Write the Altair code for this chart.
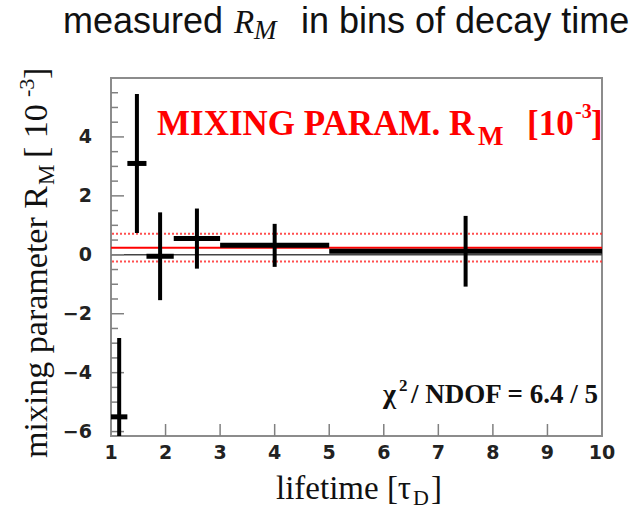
import altair as alt
import pandas as pd

# Decay-time bins (in units of the D lifetime) and the measured mixing parameter R_M [1e-3]
bin_lo = [1.0, 1.3, 1.65, 2.15, 3.0, 5.0]
bin_hi = [1.3, 1.65, 2.15, 3.0, 5.0, 10.0]
bin_center = [1.15, 1.475, 1.9, 2.575, 4.0, 7.5]
rm_value = [-5.5, 3.1, -0.05, 0.55, 0.32, 0.12]
rm_error = [2.68, 2.36, 1.49, 1.02, 0.73, 1.2]

# Constant fit over all bins and its one-sigma band
fit_value = 0.24
fit_error = 0.47

# Axis tick positions and labels
x_tick_labels = [1, 2, 3, 4, 5, 6, 7, 8, 9, 10]
x_ticks = [2, 3, 4, 5, 6, 7, 8, 9]
y_tick_labels = [-6, -4, -2, 0, 2, 4]
y_ticks_major = [-6, -4, -2, 0, 2, 4]
y_ticks_minor = [-5.5, -5, -4.5, -3.5, -3, -2.5, -1.5, -1, -0.5,
                 0.5, 1, 1.5, 2.5, 3, 3.5, 4.5, 5, 5.5]

W, H = 491, 358
xscale = alt.Scale(domain=[1, 10], nice=False, zero=False)
yscale = alt.Scale(domain=[-6.15, 6.0], nice=False, zero=False)

points = pd.DataFrame({
    "lo": bin_lo,
    "hi": bin_hi,
    "xc": bin_center,
    "y": rm_value,
    "err": rm_error,
})
points["y_lo"] = points["y"] - points["err"]
points["y_hi"] = points["y"] + points["err"]

fit = pd.DataFrame({"v": [fit_value]})
band = pd.DataFrame({"v": [fit_value - fit_error, fit_value + fit_error]})
zero = pd.DataFrame({"v": [0.0]})
anchor = pd.DataFrame({"a": [0]})

TICK = "#808080"
LABEL_FONT = "DejaVu Sans"

# Tick marks drawn inside the frame
y_major = alt.Chart(pd.DataFrame({"v": y_ticks_major})).mark_rule(
    color=TICK, strokeWidth=1.5).encode(
    y=alt.Y("v:Q", scale=yscale, axis=None), x=alt.value(0), x2=alt.value(13))
y_minor = alt.Chart(pd.DataFrame({"v": y_ticks_minor})).mark_rule(
    color=TICK, strokeWidth=1.5).encode(
    y=alt.Y("v:Q", scale=yscale, axis=None), x=alt.value(0), x2=alt.value(7))
x_major = alt.Chart(pd.DataFrame({"v": x_ticks})).mark_rule(
    color=TICK, strokeWidth=1.5).encode(
    x=alt.X("v:Q", scale=xscale, axis=None), y=alt.value(H), y2=alt.value(H - 12))

# Tick labels
x_labels = alt.Chart(pd.DataFrame({"v": x_tick_labels})).mark_text(
    font=LABEL_FONT, fontWeight="bold", fontSize=19, color="#222222",
    align="center", baseline="middle").encode(
    x=alt.X("v:Q", scale=xscale, axis=None), y=alt.value(H + 17),
    text=alt.Text("v:Q", format="d"))
y_labels = alt.Chart(pd.DataFrame({"v": y_tick_labels})).mark_text(
    font=LABEL_FONT, fontWeight="bold", fontSize=19, color="#222222",
    align="right", baseline="middle").encode(
    y=alt.Y("v:Q", scale=yscale, axis=None), x=alt.value(-19),
    text=alt.Text("v:Q", format="d"))

zero_line = alt.Chart(zero).mark_rule(color="#444444", strokeWidth=1.5).encode(
    y=alt.Y("v:Q", scale=yscale, axis=None))
band_lines = alt.Chart(band).mark_rule(color="#ff3030", strokeWidth=2,
                                       strokeDash=[2, 2], opacity=0.85).encode(
    y=alt.Y("v:Q", scale=yscale, axis=None))
fit_line = alt.Chart(fit).mark_rule(color="#ff0000", strokeWidth=2).encode(
    y=alt.Y("v:Q", scale=yscale, axis=None))

# Data points: horizontal bar over the bin width, vertical bar for the error
h_bars = alt.Chart(points).mark_rule(color="black", strokeWidth=5, clip=True).encode(
    x=alt.X("lo:Q", scale=xscale, axis=None),
    x2="hi:Q",
    y=alt.Y("y:Q", scale=yscale, axis=None),
)
v_bars = alt.Chart(points).mark_rule(color="black", strokeWidth=4, clip=True).encode(
    x=alt.X("xc:Q", scale=xscale, axis=None),
    y=alt.Y("y_lo:Q", scale=yscale, axis=None),
    y2="y_hi:Q",
)


def piece(s, x, y, size, font, weight="normal", style="normal",
          color="#111111", angle=0):
    return alt.Chart(anchor).mark_text(
        text=s, font=font, fontSize=size, fontWeight=weight, fontStyle=style,
        color=color, align="left", baseline="alphabetic", angle=angle,
    ).encode(x=alt.value(x), y=alt.value(y))


SANS = "Liberation Sans"
SERIF = "Liberation Serif"
RED = "#ff0000"

texts = [
    # title
    piece("measured", -48, -45, 36, SANS),
    piece("R", 123, -45, 33, SERIF, style="italic"),
    piece("M", 143, -39, 27, SERIF, style="italic"),
    piece("in bins of decay time", 190, -45, 36, SANS),
    # red label inside the frame
    piece("MIXING PARAM. R", 46, 57, 35, SERIF, weight="bold", color=RED),
    piece("M", 367, 67, 27, SERIF, weight="bold", color=RED),
    piece("[10", 416, 57, 35, SERIF, weight="bold", color=RED),
    piece("-3", 464, 40, 20, SERIF, weight="bold", color=RED),
    piece("]", 480, 57, 35, SERIF, weight="bold", color=RED),
    # fit quality
    piece("\u03c7", 272, 325, 28, SERIF, weight="bold"),
    piece("2", 288, 313, 17, SERIF, weight="bold"),
    piece("/ NDOF = 6.4 / 5", 300, 325, 27, SERIF, weight="bold"),
    # x-axis title
    piece("lifetime [\u03c4", 165, 421, 33, SERIF),
    piece("D", 302, 427, 22, SERIF),
    piece("]", 320, 421, 33, SERIF),
    # y-axis title (rotated)
    piece("mixing parameter R", -64, 380, 34, SERIF, angle=270),
    piece("M", -57, 107, 23, SERIF, angle=270),
    piece(" [ 10", -64, 80, 34, SERIF, angle=270),
    piece("-3", -77, 19, 22, SERIF, angle=270),
    piece(" ]", -64, 1, 34, SERIF, angle=270),
]

chart = alt.layer(
    zero_line, band_lines, fit_line,
    y_major, y_minor, x_major,
    h_bars, v_bars,
    x_labels, y_labels,
    *texts,
).properties(
    width=W,
    height=H,
    autosize=alt.AutoSizeParams(type="none"),
    padding={"left": 111, "top": 78, "right": 39, "bottom": 78},
    background="white",
).configure_view(stroke="#8c8c8c", strokeWidth=2)

chart.save("out.html", embed_options={"renderer": "svg", "actions": False})
